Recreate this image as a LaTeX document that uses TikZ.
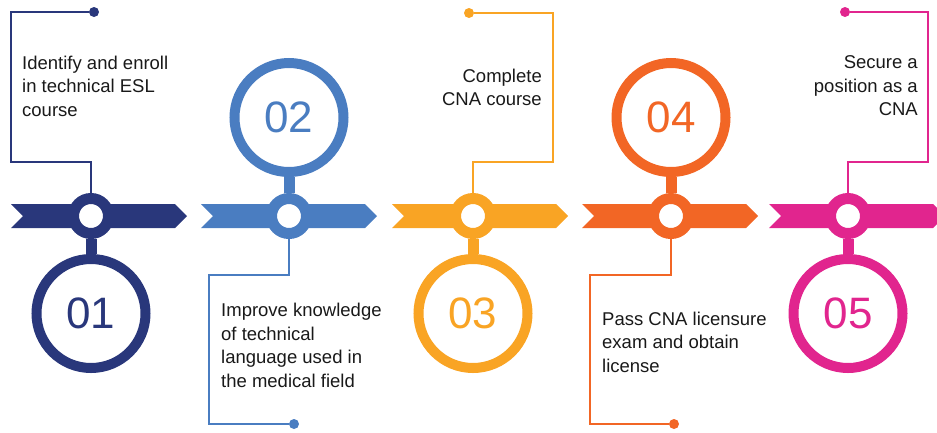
\documentclass[tikz,border=0pt]{standalone}
\usepackage{fontspec}
\setmainfont{Liberation Sans}
\definecolor{stepA}{HTML}{29377B}
\definecolor{stepB}{HTML}{4A7DC1}
\definecolor{stepC}{HTML}{F9A424}
\definecolor{stepD}{HTML}{F26625}
\definecolor{stepE}{HTML}{E1258E}
\begin{document}
\begin{tikzpicture}[x=1pt, y=-1pt,
          knob/.style = {shape=circle, draw=#1, line width=11pt, fill=white, minimum size=35pt, inner sep=0pt},
          badge/.style = {shape=circle, draw=#1, line width=10pt, fill=white, minimum size=109pt, inner sep=0pt,
                          text=#1, font=\fontsize{44}{44}\selectfont},
          stem/.style = {draw=#1, line width=11pt},
          link/.style = {draw=#1, line width=1.4pt},
          dot/.style = {shape=circle, fill=#1, minimum size=10pt, inner sep=0pt},
          steptext/.style = {inner sep=0pt, font=\fontsize{18.5}{23.5}\selectfont, text=black!90}]
  \useasboundingbox (0,0) rectangle (937,432);
  \clip (0,0) rectangle (937,432);
  % arrow bands, rings and number badges
  \foreach \i/\col/\bx/\rx/\cy/\num in {1/stepA/11/91/313.5/01, 2/stepB/201/289/117.5/02,
            3/stepC/392/473/313.5/03, 4/stepD/582/671/117.5/04, 5/stepE/769/848/313.5/05} {
    \fill[\col] (\bx,204) -- ++(164,0) -- ++(12,12) -- ++(-12,12) -- ++(-164,0) -- ++(12,-12) -- cycle;
    \node[knob=\col] (r\i) at (\rx,216) {};
    \node[badge=\col] (c\i) at (\rx,\cy) {\num};
    \draw[stem=\col] (r\i) -- (c\i);
  }
  % corner points and end dots
  \coordinate (k1) at (11,162);
  \coordinate (k2) at (209,275);
  \coordinate (k3) at (553,162);
  \coordinate (k4) at (590,275);
  \coordinate (k5) at (928,162);
  \node[dot=stepA] (d1) at (94,12) {};
  \node[dot=stepB] (d2) at (294,424) {};
  \node[dot=stepC] (d3) at (469,13) {};
  \node[dot=stepD] (d4) at (674,424) {};
  \node[dot=stepE] (d5) at (845,12) {};
  \draw[link=stepA] (r1.north) |- (k1) |- (d1);
  \draw[link=stepB] (r2.south) |- (k2) |- (d2);
  \draw[link=stepC] (r3.north) |- (k3) |- (d3);
  \draw[link=stepD] (r4.south) |- (k4) |- (d4);
  \draw[link=stepE] (r5.north) |- (k5) |- (d5);
  % step texts
  \node[steptext, anchor=north west, align=left] (t1) at (22,55.5) {Identify and enroll\\in technical ESL\\course};
  \node[steptext, anchor=north west, align=left] (t2) at (221,303) {Improve knowledge\\of technical\\language used in\\the medical field};
  \node[steptext, anchor=north east, align=right] (t3) at (542,68.7) {Complete\\CNA course};
  \node[steptext, anchor=north west, align=left] (t4) at (602,311.7) {Pass CNA licensure\\exam and obtain\\license};
  \node[steptext, anchor=north east, align=right] (t5) at (918,55.7) {Secure a\\position as a\\CNA};
\end{tikzpicture}
\end{document}
